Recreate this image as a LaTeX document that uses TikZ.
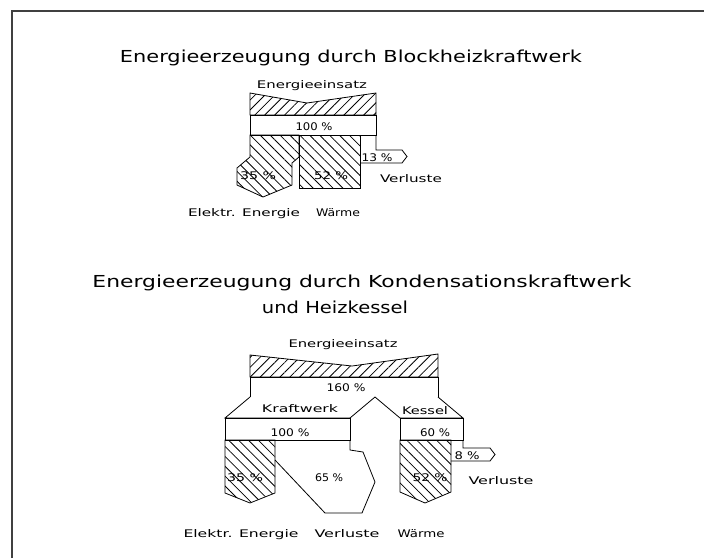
\documentclass[tikz,border=0pt]{standalone}
\usepackage{fontspec}
\setmainfont{DejaVu Sans}
\usetikzlibrary{patterns.meta}
\newcommand{\cadt}[3]{\resizebox{#1pt}{\height}{\fontsize{#2}{#2}\selectfont #3}}
\begin{document}
\begin{tikzpicture}[x=1pt,y=-1pt,
  outl/.style={draw=black,line width=0.8pt,line join=miter},
  hne/.style={pattern={Lines[angle=45,distance=7pt,line width=0.8pt]}},
  hnw/.style={pattern={Lines[angle=-45,distance=7pt,line width=0.8pt]}},
  lbl/.style={anchor=base,inner sep=0pt,outer sep=0pt}]
\path[use as bounding box] (0,0) rectangle (704,558);
\draw[line width=1.2pt,draw=black!75] (12,558) -- (12,11) -- (704,11);

% ---------- Section 1 ----------
\node[lbl] (t1) at (351,62) {\cadt{462}{16.5}{Energieerzeugung durch Blockheizkraftwerk}};
\draw[outl,hne] (250,93) -- (307,103) -- (376,93) -- (376,115) -- (250,115) -- cycle;
\draw[outl,fill=white] (250,115) rectangle (376,135);
\draw[outl,hnw] (250,135) -- (299,135) -- (299,157) -- (292,163) -- (292,185) -- (263,197) -- (237,185) -- (237,168) -- (250,157) -- cycle;
\draw[outl,hnw] (299,135) rectangle (360,188);
\draw[outl] (376,135) -- (376,150) -- (402,150) -- (407,156.5) -- (402,163) -- (360,163);
\node[lbl] (a1) at (312,88) {\cadt{110}{10.5}{Energieeinsatz}};
\node[lbl] (a2) at (314,130) {\cadt{37}{10.5}{100 \%}};
\node[lbl] (a3) at (258,179) {\cadt{36}{10.5}{35 \%}};
\node[lbl] (a4) at (331,179) {\cadt{34}{10.5}{52 \%}};
\node[lbl] (a5) at (377,161) {\cadt{31}{10.5}{13 \%}};
\node[lbl] (a6) at (411,182) {\cadt{62}{10.5}{Verluste}};
\node[lbl] (a7) at (244,216) {\cadt{112}{10.5}{Elektr. Energie}};
\node[lbl] (a8) at (338,216) {\cadt{44}{10.5}{Wärme}};

% ---------- Section 2 ----------
\node[lbl] (t2) at (362,287) {\cadt{539}{16.5}{Energieerzeugung durch Kondensationskraftwerk}};
\node[lbl] (t3) at (335,313) {\cadt{146}{16.5}{und Heizkessel}};
\draw[outl,hne] (250,355) -- (352,366) -- (438,354) -- (438,377) -- (250,377) -- cycle;
\draw[outl,fill=white] (250,377) rectangle (438,397);
\draw[outl,fill=white] (250,397) -- (225,418) -- (350,418) -- (375,397);
\draw[outl,fill=white] (375,397) -- (400,418) -- (463,418) -- (438,397);
\draw[outl,fill=white] (225,418) rectangle (350,440);
\draw[outl,fill=white] (400,418) rectangle (463,440);
\draw[outl,hnw] (225,440) -- (275,440) -- (275,493) -- (250,503) -- (225,493) -- cycle;
\draw[outl] (275,460) -- (325,513) -- (362,513) -- (375,482) -- (363,452) -- (350,450) -- (350,440);
\draw[outl,hnw] (400,440) -- (451,440) -- (451,492) -- (425,503) -- (400,492) -- cycle;
\draw[outl] (463,440) -- (463,448) -- (490,448) -- (495,454.5) -- (490,461) -- (451,461);
\node[lbl] (b1) at (343,347) {\cadt{109}{10.5}{Energieeinsatz}};
\node[lbl] (b2) at (346,391) {\cadt{39}{10.5}{160 \%}};
\node[lbl] (b3) at (300,412) {\cadt{76}{10.5}{Kraftwerk}};
\node[lbl] (b4) at (425,414) {\cadt{46}{10.5}{Kessel}};
\node[lbl] (b5) at (290,436) {\cadt{39}{10.5}{100 \%}};
\node[lbl] (b6) at (435,436) {\cadt{30}{10.5}{60 \%}};
\node[lbl] (b7) at (245,481) {\cadt{36}{10.5}{35 \%}};
\node[lbl] (b8) at (329,481) {\cadt{28}{10.5}{65 \%}};
\node[lbl] (b9) at (430,481) {\cadt{35}{10.5}{52 \%}};
\node[lbl] (b10) at (467,459) {\cadt{25}{10.5}{8 \%}};
\node[lbl] (b11) at (501,484) {\cadt{65}{10.5}{Verluste}};
\node[lbl] (b12) at (241,537) {\cadt{115}{10.5}{Elektr. Energie}};
\node[lbl] (b13) at (347,537) {\cadt{65}{10.5}{Verluste}};
\node[lbl] (b14) at (421,537) {\cadt{47}{10.5}{Wärme}};
\end{tikzpicture}
\end{document}
